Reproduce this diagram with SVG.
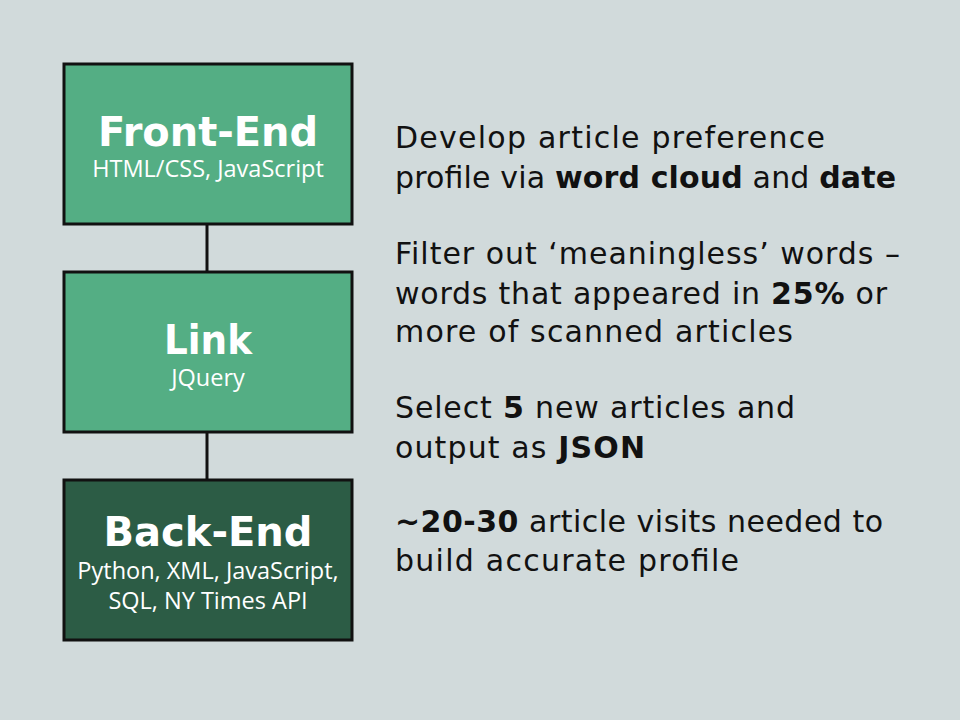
<svg xmlns="http://www.w3.org/2000/svg" width="960" height="720" viewBox="0 0 960 720">
<style>
.box{stroke:#111;stroke-width:3}
.light{fill:#54ae84}
.dark{fill:#2c5c45}
.title{font-family:"DejaVu Sans","Liberation Sans",sans-serif;font-weight:bold;font-size:40px;fill:#fff;text-anchor:middle}
.sub{font-family:"Open Sans","Liberation Sans",sans-serif;font-size:23.5px;fill:#fff;text-anchor:middle}
.body{font-family:"DejaVu Sans","Liberation Sans",sans-serif;font-size:30px;fill:#111}
.b{font-weight:bold}
.conn{stroke:#111;stroke-width:3;fill:none}
</style>
<rect x="0" y="0" width="960" height="720" fill="#d1dadb"/>
<g id="connectors">
<line class="conn" x1="207" y1="224" x2="207" y2="272"/>
<line class="conn" x1="207" y1="432" x2="207" y2="480"/>
</g>
<g id="front-end">
<rect class="box light" x="64" y="64" width="288" height="160"/>
<text class="title" x="208" y="146" textLength="220" lengthAdjust="spacingAndGlyphs">Front-End</text>
<text class="sub" x="208" y="177">HTML/CSS, JavaScript</text>
</g>
<g id="link">
<rect class="box light" x="64" y="272" width="288" height="160"/>
<text class="title" x="208" y="354" textLength="88" lengthAdjust="spacingAndGlyphs">Link</text>
<text class="sub" x="208" y="386">JQuery</text>
</g>
<g id="back-end">
<rect class="box dark" x="64" y="480" width="288" height="160"/>
<text class="title" x="208" y="546" textLength="209" lengthAdjust="spacingAndGlyphs">Back-End</text>
<text class="sub" x="208" y="579">Python, XML, JavaScript,</text>
<text class="sub" x="208" y="609">SQL, NY Times API</text>
</g>
<g id="notes">
<text class="body" x="395" y="148" textLength="430">Develop article preference</text>
<text class="body" x="395" y="188" textLength="501">profile via <tspan class="b">word cloud</tspan> and <tspan class="b">date</tspan></text>
<text class="body" x="395" y="264" textLength="505">Filter out ‘meaningless’ words –</text>
<text class="body" x="395" y="304" textLength="492">words that appeared in <tspan class="b">25%</tspan> or</text>
<text class="body" x="395" y="342" textLength="398">more of scanned articles</text>
<text class="body" x="395" y="418" textLength="400">Select <tspan class="b">5</tspan> new articles and</text>
<text class="body" x="395" y="458" textLength="250">output as <tspan class="b">JSON</tspan></text>
<text class="body" x="395" y="532" textLength="488"><tspan class="b">~20-30</tspan> article visits needed to</text>
<text class="body" x="395" y="571" textLength="344">build accurate profile</text>
</g>
</svg>
